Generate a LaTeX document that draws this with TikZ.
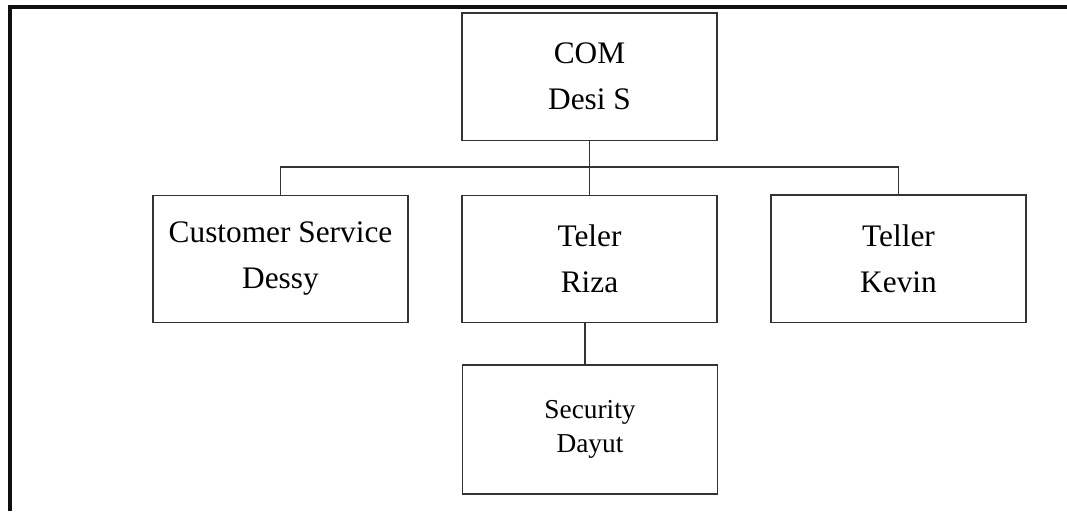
\documentclass[tikz,border=0pt]{standalone}
\usepackage{fontspec}
\setmainfont{Liberation Serif}
\newcommand*{\boxfont}{\fontsize{23.5}{34.5}\selectfont}
\newcommand*{\smallboxfont}{\fontsize{20.5}{25}\selectfont}
\definecolor{edge}{RGB}{51,51,51}
\definecolor{frame}{RGB}{15,15,15}
\usepackage{tikz}
\tikzstyle{base}=[x=0.75pt, y=-0.75pt, inner sep=0pt, outer sep=0pt]
\tikzstyle{unit}=[draw=edge, line width=1.1pt, align=center, minimum width=191.25pt, minimum height=95.6pt, font=\boxfont]
\tikzstyle{link}=[draw=edge, line width=1.1pt]

\begin{document}
\begin{tikzpicture}[base]
    \path [use as bounding box] (0,0) rectangle (1067,511);
    \draw [frame, line width=2.4pt] (10,511) -- (10,7) -- (1067,7);
        \node [unit] (com) at (589.5,76.5) {COM\\Desi S};
        \node [unit] (cs) at (280.5,259) {Customer Service\\Dessy};
        \node [unit] (riza) at (589.5,259) {Teler\\Riza};
        \node [unit] (kevin) at (898.5,258.5) {Teller\\Kevin};
        \node [unit, minimum height=96.75pt, font=\smallboxfont] (dayut) at (590,429.5) {Security\\Dayut};
        \coordinate (bus) at (589.5,167);
        \draw [link] (com.south) -- (bus);
        \draw [link] (cs.north) |- (bus) -| (kevin.north);
        \draw [link] (bus) -- (riza.north);
        \draw [link] ([xshift=-3.5pt]riza.south) -- ([xshift=-3.5pt]riza.south |- dayut.north);
    \end{tikzpicture}
\end{document}
